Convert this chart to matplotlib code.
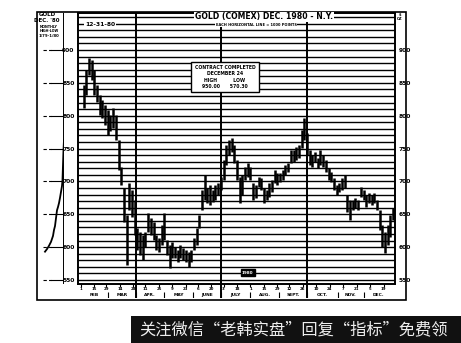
import numpy as np
import matplotlib.pyplot as plt
from matplotlib.patches import Rectangle

# Dados: ouro COMEX dez/1980, barras a cada 2 pregões (indice de pregão desde 1/fev)
days = np.arange(2, 234, 2)
highs = [847, 870, 888, 885, 870, 847, 832, 824, 816, 809, 801, 812, 801,
         763, 722, 690, 649, 698, 687, 672, 629, 623, 618, 623, 652, 644,
         638, 618, 614, 634, 652, 611, 603, 607, 600, 596, 603, 599, 596,
         593, 596, 614, 629, 649, 687, 710, 690, 695, 687, 695, 698, 707,
         733, 755, 763, 766, 755, 733, 707, 710, 722, 728, 722, 698, 695,
         707, 705, 690, 687, 698, 702, 717, 713, 713, 717, 725, 728, 748,
         748, 752, 755, 778, 797, 774, 748, 740, 745, 736, 748, 740, 733,
         720, 714, 705, 695, 698, 705, 710, 679, 672, 672, 675, 672, 692,
         687, 679, 682, 679, 682, 672, 656, 634, 623, 634, 649, 659]
lows = [812, 832, 862, 854, 832, 821, 801, 797, 786, 771, 776, 781, 763,
        717, 695, 638, 573, 656, 646, 618, 596, 588, 580, 600, 623, 618,
        611, 596, 593, 603, 611, 588, 568, 583, 583, 577, 583, 580, 577,
        570, 577, 596, 603, 629, 656, 672, 667, 664, 669, 672, 679, 687,
        702, 725, 740, 745, 728, 702, 667, 679, 702, 707, 702, 672, 675,
        692, 687, 667, 672, 676, 684, 698, 695, 699, 702, 710, 714, 728,
        730, 733, 736, 751, 763, 740, 725, 722, 730, 720, 725, 722, 714,
        702, 699, 687, 679, 684, 687, 690, 653, 641, 656, 660, 656, 676,
        672, 661, 667, 664, 667, 656, 626, 600, 591, 603, 615, 641]

# painel da esquerda (historico anterior)
left_x = [7, 9, 11, 13, 15, 16, 17, 18, 19, 20, 21, 22, 23, 24, 24.5, 25, 25.5, 26]
left_prices = [593, 597, 602, 608, 617, 626, 632, 644, 656, 661, 667, 675,
               684, 693, 702, 725, 748, 763]

price_labels = [550, 600, 650, 700, 750, 800, 850, 900]
months = ['FEB', 'MAR', 'APR.', 'MAY', 'JUNE', 'JULY', 'AUG.', 'SEPT.',
          'OCT.', 'NOV.', 'DEC.']
month_starts = [0, 20, 41, 62, 83, 104, 126, 147, 168, 191, 210, 232]
friday_days = [0, 10, 19, 29, 39, 48, 58, 68, 78, 87, 97, 106, 116, 126,
               136, 146, 155, 165, 175, 185, 195, 205, 215, 225]
friday_labels = ['1', '15', '29', '14', '28', '11', '25', '9', '23', '6',
                 '20', '3', '18', '1', '15', '29', '12', '26', '10', '24',
                 '7', '21', '5', '19']
quarter_lines = [41, 104, 168]

W, H = 461, 343


def rect(x0, y0, x1, y1):
    return [x0 / W, 1 - y1 / H, (x1 - x0) / W, (y1 - y0) / H]


fig = plt.figure(figsize=(W / 100, H / 100), dpi=100)
YMIN, YMAX = 543.8, 956.3
XMIN, XMAX = -2.1, 233.4

# Grafico principal
ax = fig.add_axes(rect(78, 13, 395, 284))
ax.set_xlim(XMIN, XMAX)
ax.set_ylim(YMIN, YMAX)
for p in range(550, 951, 10):
    ax.axhline(p, color='black', lw=1.0, zorder=1)
for q in quarter_lines:
    ax.axvline(q, color='black', lw=1.4, zorder=1)
ax.vlines(days, lows, highs, color='black', lw=1.8, zorder=3)
ax.set_xticks([])
ax.set_yticks(price_labels)
ax.set_yticklabels([str(p) for p in price_labels], fontsize=4.3, fontweight='bold')
ax.tick_params(axis='y', length=0, pad=2.5, labelleft=True, labelright=True)
for s in ax.spines.values():
    s.set_linewidth(1.4)

ax.text(124, 561, '1980', fontsize=3, color='white', fontweight='bold',
        ha='center', va='center', zorder=5,
        bbox=dict(facecolor='black', edgecolor='black', pad=1))

# faixa das datas
axb = fig.add_axes(rect(78, 284, 395, 298))
axb.set_xlim(XMIN, XMAX)
axb.set_ylim(0, 1)
axb.axis('off')
axb.vlines(friday_days, 0.8, 1.0, color='black', lw=0.8)
axb.vlines(month_starts[1:-1], 0.0, 0.45, color='black', lw=0.8)
for q in quarter_lines:
    axb.axvline(q, color='black', lw=1.4)
for d, lab in zip(friday_days, friday_labels):
    axb.text(d, 0.62, lab, fontsize=2.8, fontweight='bold', ha='center', va='center')
for i, m in enumerate(months):
    mid = (month_starts[i] + month_starts[i + 1]) / 2
    axb.text(mid, 0.22, m, fontsize=3.2, fontweight='bold', ha='center', va='center')

# painel da esquerda
axl = fig.add_axes(rect(38, 13, 64, 284))
axl.set_xlim(0, 26)
axl.set_ylim(YMIN, YMAX)
axl.axis('off')
axl.axvline(26, color='black', lw=1.4)
for p in price_labels:
    axl.plot([5, 13], [p, p], color='black', lw=0.8, ls=(0, (3, 2)))
    axl.plot([13, 26], [p, p], color='black', lw=0.8)
axl.plot(left_x, left_prices, color='black', lw=1.3)

fig.text(47 / W, 1 - 14 / H, 'GOLD', fontsize=4, fontweight='bold', ha='center', va='center')
fig.text(47 / W, 1 - 21 / H, "DEC. '80", fontsize=4, fontweight='bold', ha='center', va='center')
fig.text(49 / W, 1 - 29 / H, 'MONTHLY\nHIGH-LOW', fontsize=2.4, fontweight='bold',
         ha='center', va='center', linespacing=1.0)
fig.text(49 / W, 1 - 36 / H, '1/79-1/80', fontsize=2.8, fontweight='bold', ha='center', va='center')

# titulos
fig.text(264 / W, 1 - 17 / H, 'GOLD (COMEX) DEC. 1980 - N.Y.', fontsize=5.6,
         fontweight='bold', ha='center', va='center',
         bbox=dict(facecolor='white', edgecolor='none', pad=0.6))
fig.text(256 / W, 1 - 24.5 / H, 'EACH HORIZONTAL LINE = 1000 POINTS', fontsize=2.6,
         fontweight='bold', ha='center', va='center',
         bbox=dict(facecolor='white', edgecolor='none', pad=0.4))
fig.text(100 / W, 1 - 25 / H, '12-31-80', fontsize=4.3, fontweight='bold',
         ha='center', va='center',
         bbox=dict(facecolor='white', edgecolor='none', pad=0.8))
fig.text(400 / W, 1 - 17 / H, '$\nOZ', fontsize=2.6, fontweight='bold',
         ha='center', va='center', linespacing=1.0)
fig.text(225 / W, 1 - 77 / H,
         'CONTRACT COMPLETED\nDECEMBER 24\nHIGH          LOW\n950.00      570.30',
         fontsize=3.3, fontweight='bold', ha='center', va='center', linespacing=1.3,
         bbox=dict(facecolor='white', edgecolor='black', lw=1.0, pad=2.5))

# moldura externa
fig.patches.append(Rectangle((37 / W, 1 - 300 / H), (406 - 37) / W, (300 - 12) / H,
                             transform=fig.transFigure, fill=False,
                             edgecolor='black', lw=1.2))

# faixa da marca d'agua
fig.patches.append(Rectangle((131 / W, 0), (W - 131) / W, 27 / H,
                             transform=fig.transFigure, facecolor='#111111',
                             edgecolor='none'))
fig.text(139 / W, 13.5 / H, '关注微信“老韩实盘”回复“指标”免费领',
         family=['Noto Sans CJK SC', 'DejaVu Sans'], fontsize=11.7,
         color='#eeeeee', ha='left', va='center')

plt.savefig('out.png', dpi=100)
